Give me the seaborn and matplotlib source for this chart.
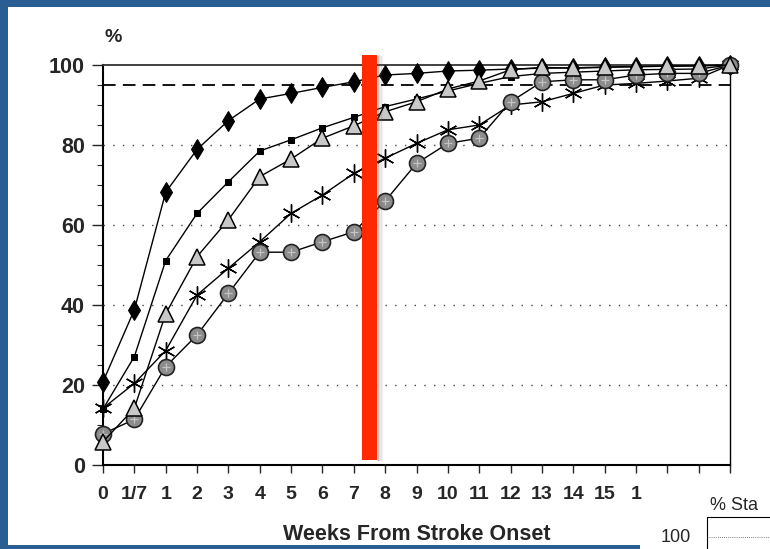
import matplotlib
matplotlib.use("Agg")
import matplotlib.pyplot as plt
from matplotlib.patches import Rectangle
import seaborn as sns
import pandas as pd

# ─── Data ─────────────────────────────────────────────────────────────────────

tick_labels = ["0", "1/7", "1", "2", "3", "4", "5", "6", "7", "8", "9",
               "10", "11", "12", "13", "14", "15", "1", "", "", ""]
positions = list(range(21))

diamond  = [20.8, 38.8, 68.2, 78.9, 86.1, 91.5, 92.9, 94.4, 95.8, 97.5, 97.9,
            98.5, 98.7, 99.0, 99.2, 99.3, 99.5, 99.6, 99.7, 99.8, 100]
square   = [14.0, 27.1, 51.1, 62.9, 70.8, 78.5, 81.3, 84.3, 86.9, 89.6, 91.5,
            93.5, 95.4, 97.1, 97.9, 98.2, 98.5, 98.8, 98.9, 99.0, 100]
triangle = [5.8, 14.2, 37.8, 52.1, 61.3, 72.1, 76.5, 81.7, 84.8, 88.3, 90.8,
            94.0, 96.0, 98.8, 99.4, 99.2, 99.4, 99.6, 99.7, 99.8, 100]
asterisk = [14.2, 20.4, 28.6, 42.5, 49.2, 55.8, 62.9, 67.5, 72.9, 76.7, 80.4,
            83.8, 85.0, 90.0, 90.8, 92.9, 95.0, 95.4, 96.0, 96.7, 100]
circle   = [7.8, 11.4, 24.6, 32.5, 42.9, 53.2, 53.2, 55.8, 58.3, 66.0, 75.4,
            80.4, 81.7, 90.8, 95.8, 96.3, 96.3, 97.5, 97.9, 97.9, 100]

grid_levels = [20, 40, 60, 80]
threshold = 95

df = pd.DataFrame({"pos": positions, "diamond": diamond, "square": square,
                   "triangle": triangle, "asterisk": asterisk, "circle": circle})

# ─── Figure ───────────────────────────────────────────────────────────────────

sns.set_style("white")
plt.rcParams["font.family"] = ["Liberation Sans", "DejaVu Sans"]
NARROW = ["Liberation Sans Narrow", "Liberation Sans", "DejaVu Sans"]

fig = plt.figure(figsize=(7.7, 5.49), dpi=100)
fig.patch.set_facecolor("white")
ax = fig.add_axes([103 / 770, 1 - 465 / 549, 627 / 770, 400 / 549])

# reference lines
for lvl in grid_levels:
    ax.axhline(lvl, color="#444444", lw=1.0, ls=(0, (1, 6)), zorder=1)
ax.axhline(threshold, color="black", lw=1.3, ls=(0, (7, 4)), zorder=1)

styles = [
    ("diamond",  dict(marker="d", markersize=10, markerfacecolor="black",
                      markeredgecolor="black")),
    ("square",   dict(marker="s", markersize=4.5, markerfacecolor="black",
                      markeredgecolor="black")),
    ("asterisk", dict(marker=(6, 2, 0), markersize=13, markeredgewidth=1.0,
                      markeredgecolor="black")),
    ("circle",   dict(marker="o", markersize=11.5, markerfacecolor="#8c8c8c",
                      markeredgecolor="#222222", markeredgewidth=1.2)),
    ("triangle", dict(marker="^", markersize=12, markerfacecolor="#c8c8c8",
                      markeredgecolor="black", markeredgewidth=1.1)),
]
for i, (col, kw) in enumerate(styles):
    sns.lineplot(data=df, x="pos", y=col, ax=ax, color="black", lw=1.0,
                 clip_on=False, zorder=3 + i, **kw)
    if col == "circle":
        # cross-hatch texture inside the grey discs
        sns.lineplot(data=df, x="pos", y=col, ax=ax, lw=0, marker="+",
                     markersize=6, markeredgecolor="#c4c4c4",
                     markeredgewidth=0.9, clip_on=False, zorder=3 + i)

ax.set_xlim(0, 20)
ax.set_ylim(0, 100)

ax.set_xticks(positions)
ax.set_xticklabels(tick_labels, fontsize=14, fontweight="bold", family=NARROW)
ax.set_yticks([0, 20, 40, 60, 80, 100])
ax.set_yticklabels(["0", "20", "40", "60", "80", "100"], fontsize=15.5,
                   fontweight="bold")
ax.set_yticks(range(0, 101, 5), minor=True)
ax.tick_params(axis="y", which="major", direction="out", length=8, width=1,
               pad=5, left=True)
ax.tick_params(axis="y", which="minor", direction="out", length=4, width=0.8,
               left=True)
ax.tick_params(axis="x", which="major", direction="out", length=6, width=1,
               pad=9, bottom=True)

ax.set_xlabel("Weeks From Stroke Onset", fontsize=15.5, fontweight="bold",
              family=NARROW, labelpad=15)
ax.set_ylabel("")

for side, lw, c in [("left", 1.5, "black"), ("bottom", 1.5, "black"),
                    ("top", 1.3, "#333333"), ("right", 1.0, "black")]:
    ax.spines[side].set_visible(True)
    ax.spines[side].set_linewidth(lw)
    ax.spines[side].set_color(c)

fig.text(105 / 770, 1 - 38 / 549, "%", fontsize=14, fontweight="bold",
         va="center", ha="left")

# red marker bar with soft shadow
for k, a in enumerate([0.28, 0.2, 0.13, 0.07]):
    ax.add_patch(Rectangle((8.73 + 0.05 * k, 1.0), 0.06, 101.3,
                           color="#666666", alpha=a, lw=0, clip_on=False,
                           zorder=9))
ax.add_patch(Rectangle((8.26, 1.2), 0.47, 101.3, color="#ff2a00", lw=0,
                       clip_on=False, zorder=10))

# slide frame (blue border strips)
blue = "#2a5d91"
fig.patches.append(Rectangle((0, 0), 8 / 770, 1, transform=fig.transFigure,
                             color=blue, lw=0))
fig.patches.append(Rectangle((0, 1 - 7 / 549), 1, 7 / 549,
                             transform=fig.transFigure, color=blue, lw=0))
fig.patches.append(Rectangle((0, 0), 640 / 770, 4 / 549,
                             transform=fig.transFigure, color=blue, lw=0))

# cropped fragment of a neighbouring chart
fig.text(710 / 770, 1 - 506 / 549, "% Sta", fontsize=13, va="center",
         ha="left")
fig.text(691 / 770, 1 - 537 / 549, "100", fontsize=13, va="center",
         ha="right")
fig.add_artist(plt.Line2D([707 / 770, 707 / 770], [0, 1 - 517 / 549],
                          color="black", lw=0.8))
fig.add_artist(plt.Line2D([707 / 770, 1], [1 - 517 / 549, 1 - 517 / 549],
                          color="black", lw=0.8))
fig.add_artist(plt.Line2D([707 / 770, 1], [1 - 537 / 549, 1 - 537 / 549],
                          color="#555555", lw=0.6, ls=(0, (1, 1.5))))

fig.savefig("out.png", dpi=100)
